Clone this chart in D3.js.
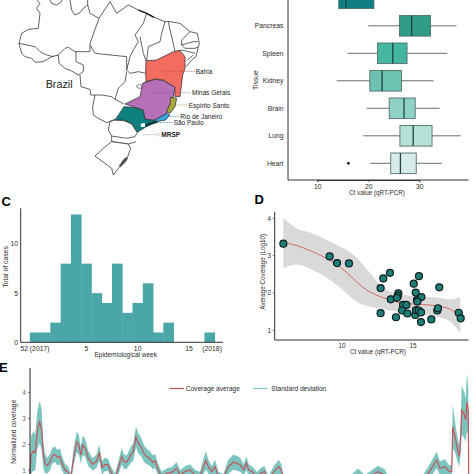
<!DOCTYPE html>
<html>
<head>
<meta charset="utf-8">
<style>
html,body{margin:0;padding:0;background:#fff;}
svg{display:block;}
text{font-family:"Liberation Sans",Arial,sans-serif;}
</style>
<script src="https://cdn.jsdelivr.net/npm/d3@7/dist/d3.min.js"></script>
</head>
<body>
<svg id="fig" width="474" height="474" viewBox="0 0 474 474"></svg>
<script>
// ---- Panel B: Ct value per tissue ----
const tissues = ["Liver","Pancreas","Spleen","Kidney","Brain","Lung","Heart"];
const ctLow   = [10.6,20.0,15.9,13.8,19.7,19.0,20.4];
const ctQ1    = [14.2,26.1,21.8,20.3,24.1,26.2,24.4];
const ctMed   = [15.6,28.5,24.8,22.7,27.0,28.8,26.3];
const ctQ3    = [21.1,32.2,27.6,26.5,29.2,32.5,29.4];
const ctHigh  = [28.0,37.3,35.5,32.8,34.0,38.1,34.4];
const tissueColors = ["#0f7f84","#2f9c86","#45b7a0","#6cc3b2","#8fd1c4","#b6dfd7","#d6ece8"];
const heartOutlier = 16.1;

// ---- Panel C: cases per epidemiological week ----
const weekSlots = [0,1,2,3,4,5,6,7,8,9,10,11,12,13,14,15,16,17];
const weekCases = [1,1,2,8,13,8,5,4,8,3,4,6,1,2,0,0,0,1];
const weekTicks = [[0.0,"52 (2017)"],[5,"5"],[10,"10"],[15,"15"],[17.25,"(2018)"]];

// ---- Panel D: coverage against Ct ----
const sampleCt = [5.87,9.13,9.65,10.49,12.72,12.91,13.38,12.72,13.43,13.80,13.97,13.94,13.87,14.30,14.53,14.23,14.60,15.05,15.42,15.19,15.28,15.59,15.31,16.85,15.16,15.21,15.40,15.56,15.56,16.29,16.71,16.76,18.22,18.36];
const sampleCov = [3.32,2.98,2.80,2.79,2.13,2.39,2.54,1.46,1.83,1.35,1.99,1.92,1.87,1.68,1.68,1.53,1.45,2.25,2.45,2.01,1.81,1.89,1.77,2.15,1.41,1.54,1.53,1.48,1.22,1.29,1.53,1.59,1.47,1.32];
const fitCt    = [5.87,6.83,7.77,8.94,9.88,10.70,11.41,12.0,12.70,13.40,14.34,15.75,16.69,17.63,18.33];
const fitMean  = [3.35,3.27,3.13,2.92,2.69,2.42,2.17,2.02,1.90,1.81,1.72,1.69,1.65,1.56,1.38];
const fitUpper = [4.0,3.73,3.62,3.42,3.24,3.06,2.79,2.53,2.21,2.04,1.95,1.90,1.88,1.83,1.90];
const fitLower = [2.66,2.76,2.65,2.40,2.14,1.86,1.69,1.63,1.58,1.53,1.46,1.41,1.36,1.23,0.92];

// ---- Panel E: normalized coverage along the genome ----
const genomePos = [0,1,3.3,5.3,7.3,9.7,11.7,13.3,15,17.3,20,22.3,25,27.3,30,32,35,38.3,40.7,44,46.7,49,50.7,52.7,55.3,58.3,62.7,66.7,69.3,72,75,78,80.7,85,88.3,91.7,94,96.7,100.7,103.3,106,108.3,111,114,116.7,120,122.7,125,128.3,131.7,136.7,141.7,146.7,150,155,160,165,170,174,176,178.3,181.7,185,188.3,193.3,198.3,203.3,207,210.3,213.7,216.3,218.7,222,227,230.3,234.3,238.7,243.7,248.7,251.3,253.7,260,275,291,305,320,328,335,342,348,355,360,380,390,398.3,406.7,410,415,419.3,421.7,422.7,425,427.3,429.3,431,431.7,434.3,435.7,437,438.3,438.7];
const covMean = [0.86,1.59,1.74,1.69,2.55,2.87,2.55,1.59,1.27,1.18,1.31,1.56,1.62,1.49,1.53,1.27,1.01,0.92,0.69,1.59,2.10,1.97,1.59,1.97,1.85,1.46,1.23,1.36,1.69,1.10,1.23,1.21,0.95,0.69,1.08,1.53,1.33,1.31,1.59,1.72,2.29,2.04,1.91,1.65,1.53,1.46,1.31,1.36,1.01,0.76,0.88,0.92,1.08,0.82,0.95,1.01,0.82,0.76,1.21,1.38,1.14,0.95,1.14,0.76,0.69,1.14,1.31,1.27,1.21,1.01,1.27,1.01,0.95,0.76,0.88,0.95,0.63,0.95,1.14,1.01,0.63,0.40,0.35,0.62,0.30,0.60,0.85,0.65,0.80,0.95,0.82,0.45,0.40,0.50,0.88,1.40,1.08,1.14,0.95,0.95,2.68,2.30,1.85,1.53,2.49,3.33,3.14,2.94,3.65,3.26,0.60];
const covSd = [0.30,0.72,0.76,0.70,0.72,0.82,0.78,0.50,0.38,0.30,0.32,0.31,0.30,0.29,0.31,0.28,0.24,0.22,0.19,0.33,0.40,0.37,0.33,0.38,0.35,0.30,0.24,0.26,0.32,0.26,0.26,0.24,0.22,0.19,0.26,0.32,0.28,0.26,0.31,0.34,0.40,0.40,0.36,0.32,0.30,0.28,0.26,0.27,0.22,0.18,0.20,0.20,0.24,0.19,0.21,0.22,0.19,0.18,0.30,0.36,0.27,0.22,0.27,0.19,0.17,0.27,0.29,0.29,0.27,0.22,0.27,0.22,0.21,0.17,0.19,0.22,0.15,0.21,0.27,0.23,0.14,0.10,0.10,0.24,0.09,0.18,0.22,0.17,0.21,0.23,0.21,0.12,0.10,0.14,0.26,0.32,0.27,0.29,0.24,0.28,0.84,0.60,0.48,0.40,0.70,0.94,0.90,0.85,1.10,0.95,0.20];

// ---- Panel A: map outlines, in map units (three units per pixel) ----
const borderLines = [
  [[110,0],[120,10],[110,25],[120,40],[115,85],[85,88],[65,100],[57,130],[65,160],[75,170],[95,175],[105,187],[130,185],[155,170],[175,165],[195,145],[205,142],[225,155],[270,155],[270,130],[297,55],[270,40],[263,15],[263,0]],
  [[57,130],[105,140],[120,155],[140,165],[160,170]],
  [[150,0],[155,10],[170,15],[185,5],[185,0]],
  [[210,0],[215,30],[225,45],[240,38],[250,25],[263,15]],
  [[175,165],[177,190],[195,205],[215,213],[235,225],[250,215],[250,195],[228,185],[228,155]],
  [[240,225],[243,260],[270,268],[272,285],[305,285],[335,290],[345,298]],
  [[270,135],[285,160],[380,170]],
  [[285,285],[278,320],[280,345],[295,355],[320,368],[345,358]],
  [[297,55],[330,5],[350,40],[385,15],[415,30],[440,40],[462,52]],
  [[462,52],[495,65],[510,65],[540,70],[570,95],[592,100],[598,130],[588,170],[575,180],[558,200]],
  [[440,40],[430,70],[405,105],[415,125],[400,150],[390,170],[380,210],[390,220],[415,215],[437,220]],
  [[495,65],[485,100],[480,125],[445,140],[440,180]],
  [[420,110],[430,160],[438,182]],
  [[505,65],[510,90],[520,130],[525,155]],
  [[570,95],[545,120],[545,135],[580,125],[594,125]],
  [[545,135],[555,145],[585,145],[596,140]],
  [[525,155],[545,150],[585,160]],
  [[580,165],[560,182]],
  [[380,170],[380,210]],
  [[380,215],[375,245],[355,265],[345,298],[372,312]],
  [[437,245],[428,252]],
  [[335,408],[335,425],[385,432],[408,425]]
];
const southStates = [
  [[330,365],[345,360],[372,362],[395,372],[412,398],[405,410],[380,415],[335,408],[325,390]],
  [[335,425],[310,445],[285,468],[335,505],[340,525],[355,505],[380,478],[392,445],[385,432]]
];
const federalDistrict = [[410,257],[420,253],[427,258],[424,265],[412,264]];
const patosLagoon = [[378,472],[368,482],[358,498],[362,500],[376,486],[382,476]];
const coloredStates = [
  {name:"Bahia",color:"#f26c60",pts:[[438,182],[470,180],[500,165],[520,155],[540,152],[555,170],[555,205],[548,225],[540,290],[525,290],[524,262],[490,240],[465,237],[438,245],[437,210]]},
  {name:"Minas Gerais",color:"#b670b8",pts:[[375,312],[420,290],[428,250],[465,238],[490,242],[525,262],[520,290],[510,315],[500,340],[465,360],[435,358],[430,330],[400,320]]},
  {name:"Espírito Santo",color:"#a6a93c",pts:[[512,292],[530,295],[525,320],[510,340],[500,335],[510,312]]},
  {name:"Rio de Janeiro",color:"#3aa6df",pts:[[465,360],[500,340],[510,345],[497,360],[470,365]]},
  {name:"São Paulo",color:"#0f8080",pts:[[345,360],[372,320],[400,322],[428,330],[435,358],[465,362],[455,370],[412,397],[395,370],[370,360]]}
];
const metroArea = [[422,371],[435,369],[435,380],[423,381]];
const coastStrip = [[436,372],[465,362],[478,366],[455,374],[438,381]];
const mapLabels = [
  {text:"Bahia",x:587,y:214,from:490,to:585,color:"#b9504c"},
  {text:"Minas Gerais",x:576,y:278,from:450,to:573,color:"#8c5a90"},
  {text:"Espírito Santo",x:566,y:315,from:530,to:563,color:"#85883a"},
  {text:"Rio de Janeiro",x:541,y:350,from:510,to:538,color:"#2f87b5"},
  {text:"São Paulo",x:521,y:368,from:480,to:518,color:"#0f7070"},
  {text:"MRSP",x:484,y:404,from:428,to:473,color:"#aaaaaa",bold:true}
];

const ink = "#2b2b2b", axisInk = "#333333";
const svg = d3.select("#fig");

function axisText(g, str, x, y, size, opts = {}) {
  return g.append("text").attr("x", x).attr("y", y)
    .attr("font-size", size)
    .attr("fill", opts.fill || ink)
    .attr("font-weight", opts.weight || "normal")
    .attr("text-anchor", opts.anchor || "middle")
    .attr("dominant-baseline", "central")
    .attr("transform", opts.rotate ? `rotate(-90,${x},${y})` : null)
    .text(str);
}
function styleAxis(sel, size, fill) {
  sel.selectAll(".domain").attr("stroke", axisInk).attr("stroke-width", 1);
  sel.selectAll(".tick line").attr("stroke", axisInk).attr("stroke-width", 0.7);
  sel.selectAll(".tick text").attr("font-size", size).attr("fill", fill || ink)
     .attr("font-family", '"Liberation Sans",Arial,sans-serif');
}

// ---------- A: map ----------
(function drawMap() {
  const g = svg.append("g");
  const mx = d3.scaleLinear().domain([0, 711]).range([0, 237]);
  const my = d3.scaleLinear().domain([0, 570]).range([0, 190]);
  const open = d3.line().x(d => mx(d[0])).y(d => my(d[1]));
  const closed = pts => open(pts) + "Z";

  g.selectAll("path.border").data(borderLines).join("path")
    .attr("class", "border").attr("d", open)
    .attr("fill", "none").attr("stroke", "#3a3a3a").attr("stroke-width", 0.8);
  // short dark stretch of the northern coast
  g.append("path").attr("d", open([[415,30],[440,40],[462,52]]))
    .attr("fill", "none").attr("stroke", "#111").attr("stroke-width", 1.3);
  g.selectAll("path.south").data(southStates).join("path")
    .attr("class", "south").attr("d", closed)
    .attr("fill", "#fff").attr("stroke", "#3a3a3a").attr("stroke-width", 0.8);
  g.append("path").attr("d", closed(federalDistrict))
    .attr("fill", "#fff").attr("stroke", "#555").attr("stroke-width", 0.7);
  g.append("path").attr("d", closed(patosLagoon))
    .attr("fill", "#555").attr("stroke", "#222").attr("stroke-width", 0.5);

  g.selectAll("path.state").data(coloredStates).join("path")
    .attr("class", "state").attr("d", d => closed(d.pts))
    .attr("fill", d => d.color).attr("stroke", "#2a2a2a").attr("stroke-width", 0.7);
  g.append("path").attr("d", closed(coastStrip)).attr("fill", "#083f3f");
  g.append("path").attr("d", closed(metroArea)).attr("fill", "#fff");

  axisText(g, "Brazil", mx(137), my(251), 10.8, {anchor: "start", fill: "#1c1c1c"});
  mapLabels.forEach(d => {
    g.append("line").attr("x1", mx(d.from)).attr("x2", mx(d.to))
      .attr("y1", my(d.y)).attr("y2", my(d.y))
      .attr("stroke", d.color).attr("stroke-width", 0.6)
      .attr("stroke-dasharray", d.bold ? null : "1.5 0.8");
    if (d.bold) {
      g.append("circle").attr("cx", mx(d.to + 2)).attr("cy", my(d.y)).attr("r", 1.5)
        .attr("fill", "#fff").attr("stroke", "#aaa").attr("stroke-width", 0.5);
    }
    axisText(g, d.text, mx(d.x), my(d.y), 6.5, {anchor: "start", fill: "#222", weight: d.bold ? "bold" : "normal"});
  });
})();

// ---------- B: box plots ----------
(function drawBoxes() {
  const g = svg.append("g");
  const x = d3.scaleLinear().domain([10, 30]).range([317.3, 419.3]);
  const y = d3.scalePoint().domain(tissues).range([-1.7, 163.3]);
  const hw = 10.3;

  tissues.forEach((t, i) => {
    const cy = y(t);
    g.append("line").attr("x1", x(ctLow[i])).attr("x2", x(ctHigh[i]))
      .attr("y1", cy).attr("y2", cy).attr("stroke", "#6d6d6d").attr("stroke-width", 1);
    g.append("rect").attr("x", x(ctQ1[i])).attr("width", x(ctQ3[i]) - x(ctQ1[i]))
      .attr("y", cy - hw).attr("height", hw * 2)
      .attr("fill", tissueColors[i]).attr("stroke", "#55706e").attr("stroke-width", 0.9);
    g.append("line").attr("x1", x(ctMed[i])).attr("x2", x(ctMed[i]))
      .attr("y1", cy - hw).attr("y2", cy + hw)
      .attr("stroke", "#1d4443").attr("stroke-width", 1.3);
  });
  g.append("circle").attr("cx", x(heartOutlier)).attr("cy", y("Heart")).attr("r", 1.4).attr("fill", "#111");

  g.append("g").attr("transform", "translate(0,180)")
    .call(d3.axisBottom(x).tickValues([10, 20, 30]).tickSize(2).tickPadding(2))
    .call(s => styleAxis(s, 6.8));
  g.append("line").attr("x1", 288).attr("x2", 468.7).attr("y1", 180).attr("y2", 180).attr("stroke", axisInk);
  g.append("line").attr("x1", 288).attr("x2", 288).attr("y1", 0).attr("y2", 180).attr("stroke", axisInk);
  // the first row sits above the top edge, so only the rows in view get a label
  tissues.slice(1).forEach(t => axisText(g, t, 283.5, y(t), 6.8, {anchor: "end"}));
  axisText(g, "Ct value (qRT-PCR)", 377, 192.5, 6.3);
  axisText(g, "Tissue", 255.3, 80, 6.8, {rotate: true});
})();

// ---------- C: histogram ----------
(function drawHistogram() {
  const g = svg.append("g");
  const x = d3.scaleLinear().domain([5, 15]).range([86.3, 189]);
  const y = d3.scaleLinear().domain([0, 13]).range([342.3, 214.5]);
  const w = x(1) - x(0);
  g.selectAll("rect").data(weekSlots).join("rect")
    .attr("x", d => x(d) - w / 2).attr("width", w + 0.4)
    .attr("y", (d, i) => y(weekCases[i]))
    .attr("height", (d, i) => y(0) - y(weekCases[i]))
    .attr("fill", "#4ba6a7");
  g.append("line").attr("x1", 20.7).attr("x2", 223).attr("y1", 342.3).attr("y2", 342.3).attr("stroke", axisInk);
  g.append("line").attr("x1", 20.7).attr("x2", 20.7).attr("y1", 208.3).attr("y2", 342.3).attr("stroke", axisInk);
  [0, 5, 10].forEach(v => axisText(g, v, 18, y(v), 6.8, {anchor: "end"}));
  weekTicks.forEach(([v, s]) => axisText(g, s, x(v), 348, 6.8));
  axisText(g, "Epidemiological week", 125.7, 354.7, 6.5);
  axisText(g, "Total of cases", 5.5, 267, 6.8, {rotate: true});
})();

// ---------- D: coverage scatter with fitted curve ----------
(function drawScatter() {
  const g = svg.append("g");
  const x = d3.scaleLinear().domain([10, 15]).range([342, 413]);
  const y = d3.scaleLinear().domain([1, 4]).range([330.3, 218.3]);
  const area = d3.area().x((d, i) => x(fitCt[i]))
    .y0((d, i) => y(fitLower[i])).y1((d, i) => y(fitUpper[i]))
    .curve(d3.curveMonotoneX);
  g.append("path").attr("d", area(fitCt)).attr("fill", "#d9d9d9");
  const line = d3.line().x((d, i) => x(fitCt[i])).y(d => y(d)).curve(d3.curveMonotoneX);
  g.append("path").attr("d", line(fitMean)).attr("fill", "none").attr("stroke", "#cf6a62").attr("stroke-width", 1);
  g.selectAll("circle").data(sampleCt).join("circle")
    .attr("cx", d => x(d)).attr("cy", (d, i) => y(sampleCov[i])).attr("r", 3.5)
    .attr("fill", "#1c7f78").attr("stroke", "#0e1c1c").attr("stroke-width", 1.2);
  g.append("line").attr("x1", 274.7).attr("x2", 468.7).attr("y1", 340).attr("y2", 340).attr("stroke", axisInk);
  g.append("line").attr("x1", 274.7).attr("x2", 274.7).attr("y1", 211.7).attr("y2", 340).attr("stroke", axisInk);
  [1, 2, 3, 4].forEach(v => {
    g.append("line").attr("x1", 272.7).attr("x2", 274.7).attr("y1", y(v)).attr("y2", y(v)).attr("stroke", axisInk).attr("stroke-width", 0.7);
    axisText(g, v, 271, y(v), 6.4, {anchor: "end"});
  });
  [10, 15].forEach(v => axisText(g, v, x(v), 345, 6.4));
  axisText(g, "Ct value (qRT-PCR)", 378, 351.7, 6.3);
  axisText(g, "Average Coverage (Log10)", 262.7, 271.7, 6.3, {rotate: true});
})();

// ---------- E: coverage along the genome ----------
(function drawCoverage() {
  const g = svg.append("g");
  const x = d3.scaleLinear().domain([0, 440]).range([30, 470]);
  const y = d3.scaleLinear().domain([1, 4]).range([470.3, 392.7]);
  const band = d3.area().x((d, i) => x(genomePos[i]))
    .y0((d, i) => y(covMean[i] - covSd[i])).y1((d, i) => y(covMean[i] + covSd[i]));
  g.append("path").attr("d", band(covMean)).attr("fill", "#7cc4c0");
  const line = d3.line().x((d, i) => x(genomePos[i])).y(d => y(d));
  g.append("path").attr("d", line(covMean)).attr("fill", "none").attr("stroke", "#c3585c").attr("stroke-width", 1.2);

  g.append("line").attr("x1", 30).attr("x2", 30).attr("y1", 368).attr("y2", 474).attr("stroke", "#222").attr("stroke-width", 1);
  [1, 2, 3, 4].forEach(v => {
    g.append("line").attr("x1", 28).attr("x2", 30).attr("y1", y(v)).attr("y2", y(v)).attr("stroke", "#444").attr("stroke-width", 0.7);
    axisText(g, v, 24, y(v), 6.6, {fill: "#666"});
  });
  axisText(g, "Normalized coverage", 14, 431.7, 6.8, {rotate: true});

  g.append("line").attr("x1", 169.5).attr("x2", 184).attr("y1", 388.5).attr("y2", 388.5).attr("stroke", "#c3585c").attr("stroke-width", 1.2);
  axisText(g, "Coverage average", 185.7, 388.5, 6.6, {anchor: "start"});
  g.append("line").attr("x1", 253).attr("x2", 267.5).attr("y1", 388.5).attr("y2", 388.5).attr("stroke", "#7cc4c0").attr("stroke-width", 1.2);
  axisText(g, "Standard deviation", 271.3, 388.5, 6.6, {anchor: "start"});
})();

// Panel letters
[["C", 1.5, 201], ["D", 254.5, 199], ["E", -1, 367.5]].forEach(([s, x, y]) =>
  axisText(svg, s, x, y, 13, {anchor: "start", weight: "bold", fill: "#000"}));
</script>
</body>
</html>
